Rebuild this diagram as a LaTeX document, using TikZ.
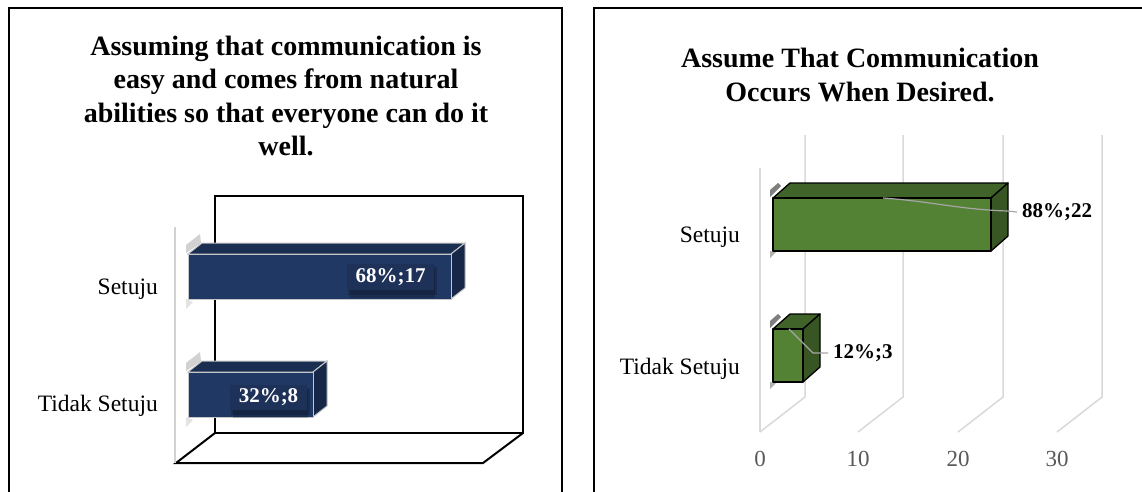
\documentclass[tikz,border=0pt]{standalone}
\usepackage{fontspec}
\setmainfont{Liberation Serif}
\definecolor{navyF}{HTML}{203864}
\definecolor{navyT}{HTML}{1A2E52}
\definecolor{navyS}{HTML}{162747}
\definecolor{navyL}{HTML}{1E3259}
\definecolor{grnF}{HTML}{548235}
\definecolor{grnT}{HTML}{3F6328}
\definecolor{grnS}{HTML}{375623}
\definecolor{gridc}{HTML}{D9D9D9}
\definecolor{axc}{HTML}{595959}
\definecolor{leadc}{HTML}{A6A6A6}
\tikzset{
  panel/.style={line width=1.8pt, draw=black},
  ttl/.style={font=\fontsize{28}{33}\selectfont\bfseries, anchor=base, inner sep=0pt},
  cat/.style={font=\fontsize{23.5}{28}\selectfont, anchor=base east, inner sep=0pt},
  axl/.style={font=\fontsize{23}{28}\selectfont, text=axc, anchor=base, inner sep=0pt},
  dlab/.style={font=\fontsize{21}{25}\selectfont\bfseries, inner sep=0pt},
  wall/.style={line width=2pt, draw=black, line join=miter},
  sidewall/.style={line width=1.3pt, draw=gray!35},
  gridln/.style={line width=1.5pt, draw=gridc},
  nfront/.style={fill=navyF, draw=gray!45, line width=1pt},
  ntop/.style={fill=navyT, draw=gray!45, line width=1pt},
  nside/.style={fill=navyS, draw=gray!45, line width=1pt},
  gfront/.style={fill=grnF, draw=black, line width=1.3pt, line join=round},
  gtop/.style={fill=grnT, draw=black, line width=1.3pt, line join=round},
  gside/.style={fill=grnS, draw=black, line width=1.3pt, line join=round},
  leader/.style={draw=leadc, line width=1.2pt},
  nbox/.style={dlab, fill=navyL, text=white},
  softshadow/.style={fill=black, opacity=.18},
}
\begin{document}
\begin{tikzpicture}[x=1pt,y=-1pt]
\useasboundingbox (0,0) rectangle (1142,491);
\fill[white] (0,0) rectangle (1142,491);

% ---------------- left panel ----------------
\draw[panel] (9,496) -- (9,8) -- (562,8) -- (562,496);
\node[ttl] (lt1) at (286,55) {Assuming that communication is};
\node[ttl] (lt2) at (286,88.5) {easy and comes from natural};
\node[ttl] (lt3) at (286,122) {abilities so that everyone can do it};
\node[ttl] (lt4) at (286,155.5) {well.};

% 3D frame
\draw[wall] (215,196) rectangle (523,433);
\draw[wall] (215,433) -- (176,463) -- (483,463) -- (523,433);
\draw[sidewall] (175,227) -- (175,463);

% shadows at left of bars
\fill[gray, opacity=.35] (186,253) -- (186,245) -- (200,234) -- (201,243) -- cycle;
\fill[gray, opacity=.22] (186,299) -- (186,309) -- (193,302) -- cycle;
\fill[gray, opacity=.35] (186,371) -- (186,363) -- (200,352) -- (201,361) -- cycle;
\fill[gray, opacity=.22] (186,417) -- (186,427) -- (193,420) -- cycle;

% Setuju bar
\filldraw[ntop] (188,254) -- (202,243) -- (465,243) -- (451,254) -- cycle;
\filldraw[nside] (451,254) -- (465,243) -- (465,288) -- (451,299) -- cycle;
\filldraw[nfront] (188,254) rectangle (451,299);
% Tidak Setuju bar
\filldraw[ntop] (188,372) -- (202,361) -- (327,361) -- (313,372) -- cycle;
\filldraw[nside] (313,372) -- (327,361) -- (327,406) -- (313,417) -- cycle;
\filldraw[nfront] (188,372) rectangle (313,417);

% data labels with soft shadows
\fill[softshadow] (348,267) rectangle (437,295);
\fill[softshadow] (350,269) rectangle (435,298);
\node[nbox, minimum width=87pt, minimum height=26pt] (l17) at (390.5,277) {68\%;17};
\fill[softshadow] (231,388) rectangle (310,415);
\fill[softshadow] (233,390) rectangle (308,418);
\node[nbox, minimum width=77pt, minimum height=25pt] (l8) at (268.5,397.5) {32\%;8};

\node[cat] (lc1) at (158,294) {Setuju};
\node[cat] (lc2) at (158,411) {Tidak Setuju};

% ---------------- right panel ----------------
\draw[panel] (594,496) -- (594,8) -- (1146,8);
\node[ttl] (rt1) at (860,67) {Assume That Communication};
\node[ttl] (rt2) at (860,101) {Occurs When Desired.};

\draw[gridln] (760,168) -- (760,432);
\foreach \gx in {805,903,1003,1102}
  \draw[gridln] (\gx,135) -- (\gx,397) -- (\gx-45,432);

\node[axl] (a0) at (760,466) {0};
\node[axl] (a10) at (858,466) {10};
\node[axl] (a20) at (958,466) {20};
\node[axl] (a30) at (1057,466) {30};

% shadows at left of green bars
\fill[black, opacity=.5] (770,197) -- (770,190) -- (778,183) -- (781,186) -- cycle;
\fill[black, opacity=.3] (770,251) -- (770,258) -- (776,252) -- cycle;
\fill[black, opacity=.5] (770,328) -- (770,321) -- (778,314) -- (781,317) -- cycle;
\fill[black, opacity=.3] (770,382) -- (770,389) -- (776,383) -- cycle;

% Setuju bar
\filldraw[gtop] (773,198) -- (790,183) -- (1008,183) -- (991,198) -- cycle;
\filldraw[gside] (991,198) -- (1008,183) -- (1008,236) -- (991,251) -- cycle;
\filldraw[gfront] (773,198) rectangle (991,251);
% Tidak Setuju bar
\filldraw[gtop] (773,329) -- (790,314) -- (820,314) -- (803,329) -- cycle;
\filldraw[gside] (803,329) -- (820,314) -- (820,367) -- (803,382) -- cycle;
\filldraw[gfront] (773,329) rectangle (803,382);

% labels and leaders
\node[dlab, anchor=west] (l22) at (1022,212) {88\%;22};
\coordinate (c22) at (883,198);
\coordinate (k22) at (1007,211);
\draw[leader] (c22) to[out=-4,in=178] (k22) -- ([xshift=-5pt]l22.west);

\node[dlab, anchor=west] (l3) at (833,353) {12\%;3};
\coordinate (c3) at (789,329);
\coordinate (k3) at (813,353);
\draw[leader] (c3) -- (k3) -- ([xshift=-5pt]l3.west);

\node[cat] (rc1) at (740,242) {Setuju};
\node[cat] (rc2) at (740,374) {Tidak Setuju};
\end{tikzpicture}
\end{document}
